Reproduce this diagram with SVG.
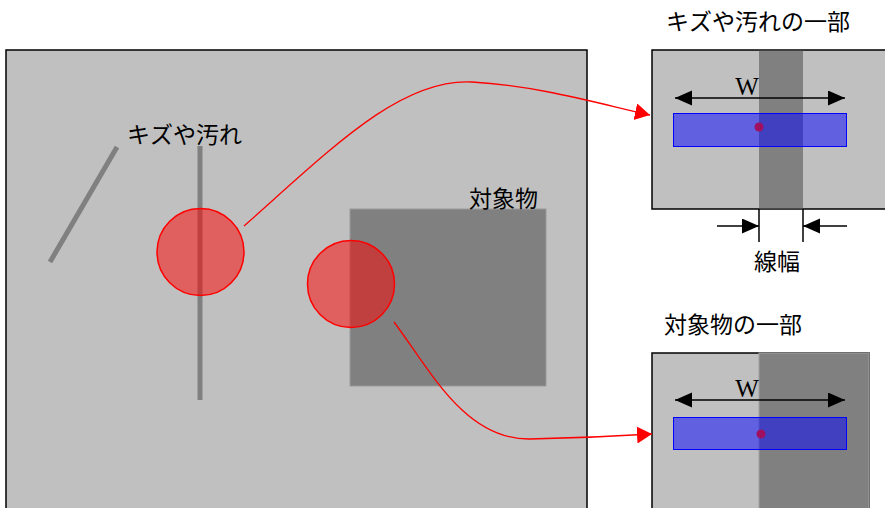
<svg xmlns="http://www.w3.org/2000/svg" width="885" height="508" viewBox="0 0 885 508">
<style>
.jp{font-family:"Noto Sans CJK JP","Noto Sans",sans-serif;font-size:23px;fill:#000}
.w{font-family:"Liberation Serif",serif;font-size:25px;fill:#000;text-anchor:middle}
.panel{fill:#c0c0c0;stroke:#000;stroke-width:1.5}
.dark{fill:#808080}
.scratch{stroke:#808080;stroke-width:5;fill:none}
.spot{fill:#ff0000;fill-opacity:0.5;stroke:#ff0000;stroke-width:1.5}
.band{fill:#0000ff;fill-opacity:0.5;stroke:#0000ff;stroke-width:1}
.dot{fill:#a01060}
.conn{fill:none;stroke:#ff0000;stroke-width:1.3}
.dim{fill:none;stroke:#000;stroke-width:1.5}
</style>
<defs>
<marker id="ra" markerUnits="userSpaceOnUse" markerWidth="16" markerHeight="18" refX="15" refY="8.5" orient="auto"><path d="M0,0 L15,8.5 L0,17 Z" fill="#ff0000"/></marker>
<marker id="ba" markerUnits="userSpaceOnUse" markerWidth="18" markerHeight="16" refX="17" refY="7.5" orient="auto-start-reverse"><path d="M0,0 L17,7.5 L0,15 Z" fill="#000"/></marker>
</defs>

<g id="main-view">
<rect class="panel" x="6" y="50" width="581" height="470"/>
<line class="scratch" x1="50" y1="262" x2="117" y2="147"/>
<line class="scratch" x1="200" y1="146" x2="200" y2="400"/>
<text class="jp" x="127" y="143">キズや汚れ</text>
</g>

<g id="object">
<rect x="350" y="209" width="196" height="177" fill="#808080" stroke="#999" stroke-width="1"/>
<text class="jp" x="469" y="207">対象物</text>
</g>

<g id="spot-scratch">
<circle class="spot" cx="200.5" cy="252" r="43.5"/>
</g>
<g id="spot-object">
<circle class="spot" cx="351" cy="284" r="43.5"/>
</g>

<g id="detail-scratch">
<text class="jp" x="666" y="30">キズや汚れの一部</text>
<rect class="panel" x="652" y="50" width="240" height="159"/>
<rect class="dark" x="759" y="50.8" width="44" height="157.5"/>
<text class="w" x="747" y="95">W</text>
<line class="dim" x1="675" y1="98" x2="845" y2="98" marker-start="url(#ba)" marker-end="url(#ba)"/>
<rect class="band" x="673.5" y="113.5" width="173" height="33"/>
<circle class="dot" cx="759" cy="127" r="4.5"/>
<line class="dim" x1="759" y1="209" x2="759" y2="242"/>
<line class="dim" x1="803" y1="209" x2="803" y2="242"/>
<line class="dim" x1="717" y1="226" x2="759" y2="226" marker-end="url(#ba)"/>
<line class="dim" x1="847" y1="226" x2="803" y2="226" marker-end="url(#ba)"/>
<text class="jp" x="754" y="270">線幅</text>
</g>

<g id="detail-object">
<text class="jp" x="664" y="333">対象物の一部</text>
<rect class="panel" x="652" y="353" width="217" height="170"/>
<rect x="759" y="353" width="110" height="170" fill="#808080" stroke="#a0a0a0" stroke-width="1"/>
<text class="w" x="747" y="397">W</text>
<line class="dim" x1="675" y1="400" x2="845" y2="400" marker-start="url(#ba)" marker-end="url(#ba)"/>
<rect class="band" x="673.5" y="417.5" width="173" height="32"/>
<circle class="dot" cx="761" cy="434" r="4.5"/>
</g>

<g id="connectors">
<path class="conn" d="M244,226 C330,150 400,78 472,82 C540,86 600,104 650,115" marker-end="url(#ra)"/>
<path class="conn" d="M394,322 C430,370 465,440 530,439 C580,438 620,436 652,434" marker-end="url(#ra)"/>
</g>
</svg>
